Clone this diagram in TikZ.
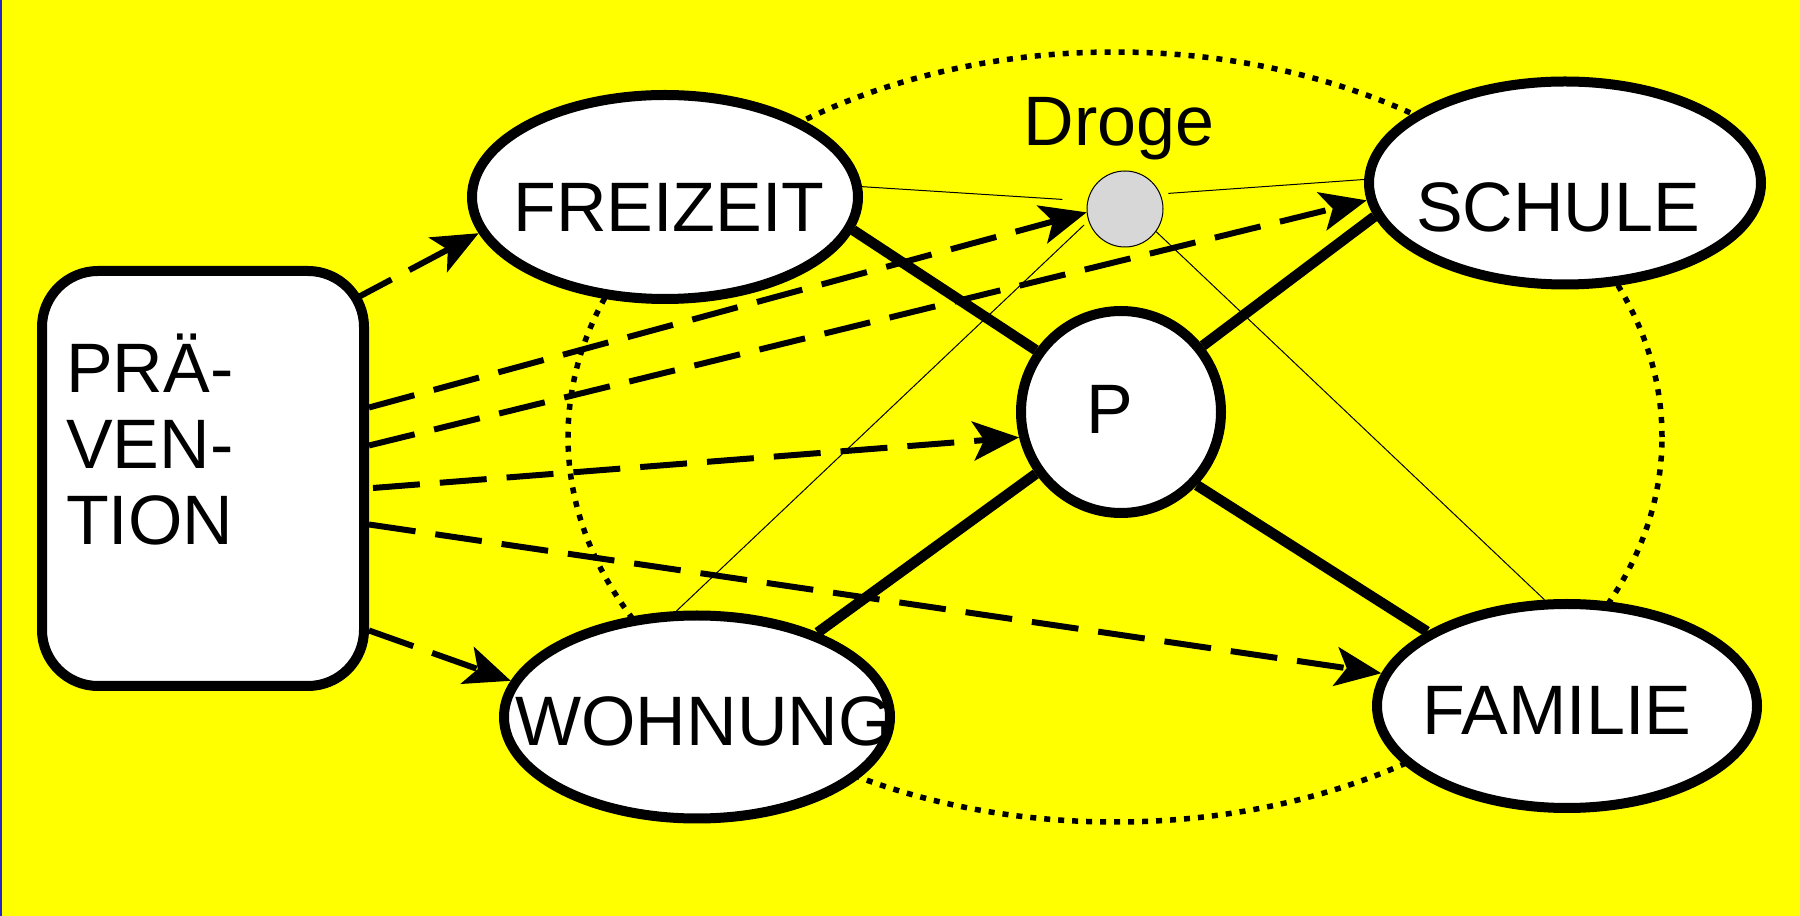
\documentclass[tikz,border=0pt]{standalone}
\usepackage{fontspec}
\setmainfont{Liberation Sans}
\usetikzlibrary{arrows.meta,shapes.geometric}
\definecolor{bgyellow}{RGB}{255,255,0}
\definecolor{drugfill}{RGB}{215,215,215}
\definecolor{edgeblue}{RGB}{40,40,200}
\pgfdeclarelayer{back}
\pgfdeclarelayer{bg}
\pgfsetlayers{back,bg,main}
\begin{document}
\begin{tikzpicture}[x=1pt,y=1pt,
  lbl/.style={font=\fontsize{70}{76}\selectfont, inner sep=0pt, anchor=base},
  blob/.style={ellipse, draw=black, line width=10pt, fill=white, inner sep=0pt},
  boxnode/.style={rectangle, rounded corners=56pt, draw=black, line width=10pt, fill=white, minimum width=322pt, minimum height=415pt, inner sep=0pt},
  drug/.style={circle, draw=black, line width=1pt, fill=drugfill, minimum size=76pt, inner sep=0pt},
  thinline/.style={line width=1pt},
  thickline/.style={line width=10.5pt},
  dasharrow/.style={line width=6pt, dash pattern=on 47pt off 20pt, -{Stealth[length=46pt,width=39pt,inset=11pt]}},
  ring/.style={line width=5.5pt, dash pattern=on 6pt off 8pt}]
\useasboundingbox (0,0) rectangle (1800,916);
\begin{pgfonlayer}{back}
\fill[bgyellow] (0,0) rectangle (1800,916);
\draw[edgeblue, line width=2pt] (1,0) -- (1,916);
\end{pgfonlayer}

\node[boxnode] (prae) at (203,437.5) {};
\node[lbl, anchor=base west, align=left] (praetext) at (66,371) {PRÄ-\\VEN-\\TION};

\node[blob, minimum width=386pt, minimum height=204pt] (fr) at (665,719) {};
\node[lbl] (frt) at (669,684) {FREIZEIT};
\node[blob, minimum width=392pt, minimum height=203pt] (sc) at (1565,733) {};
\node[lbl] (sct) at (1558,684) {SCHULE};
\node[blob, minimum width=386pt, minimum height=203pt] (wo) at (697,199) {};
\node[lbl] (wot) at (704,170) {WOHNUNG};
\node[blob, minimum width=380pt, minimum height=204pt] (fa) at (1567,210) {};
\node[lbl] (fat) at (1557,181) {FAMILIE};
\node[blob, minimum width=200pt, minimum height=202pt] (p) at (1121,504) {};
\node[lbl] (plabel) at (1110,482) {P};
\node[drug] (dr) at (1125,707) {};
\node[lbl] (drt) at (1119,770) {Droge};

\begin{pgfonlayer}{bg}
\coordinate (ringc) at (1115,479);
\draw[ring] (ringc) ellipse [x radius=547, y radius=385];
% thin lines from the drug
\draw[thinline, shorten >=25pt] (fr.3) -- (dr.168);
\draw[thinline, shorten <=8pt] (dr.23) -- (sc.179);
\draw[thinline, shorten <=6pt] (dr.198) -- (wo.101);
\draw[thinline] (dr.-36) -- (fa.102);
% thick lines to P
\draw[thickline] (fr.-10) -- (p.144);
\draw[thickline] (sc.190) -- (p.39);
\draw[thickline] (wo.35) -- (p.216);
\draw[thickline] (fa.152) -- (p.-44);
% dashed arrows
\draw[dasharrow] ([xshift=-19pt,yshift=177pt]prae.east) -- (fr.191);
\draw[dasharrow] ([yshift=71pt]prae.east) -- (dr.185);
\draw[dasharrow] ([yshift=33pt]prae.east) -- (sc.185);
\draw[dasharrow] ([xshift=4pt,yshift=-9.5pt]prae.east) -- (p.194);
\draw[dasharrow] ([yshift=-46pt]prae.east) -- (fa.170);
\draw[dasharrow] ([yshift=-152pt]prae.east) -- (wo.169);
\end{pgfonlayer}
\end{tikzpicture}
\end{document}
